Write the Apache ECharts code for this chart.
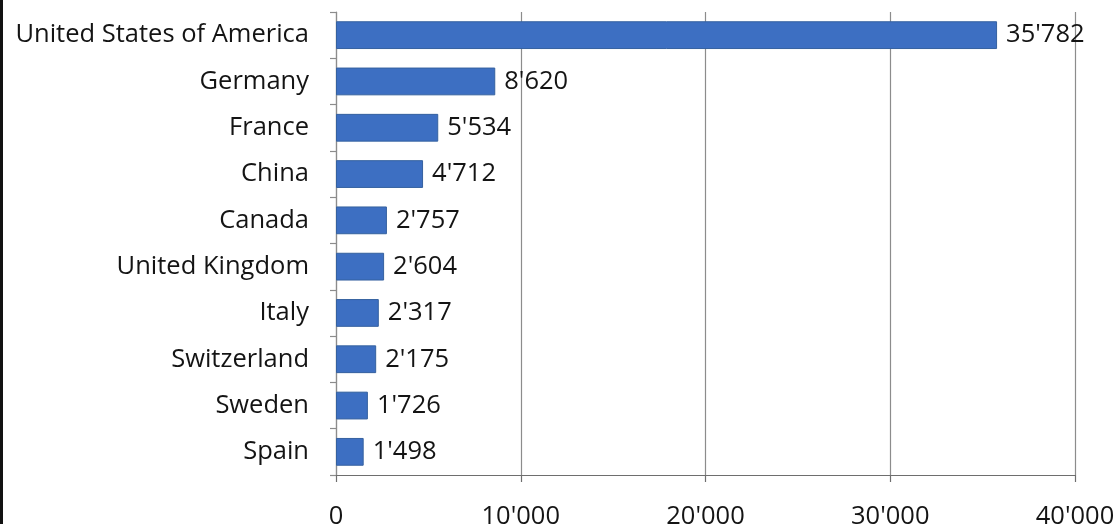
<!DOCTYPE html>
<html>
<head>
<meta charset="utf-8">
<script src="https://cdn.jsdelivr.net/npm/echarts@6/dist/echarts.min.js"></script>
<style>
  html, body { margin: 0; padding: 0; background: #fff; }
  #wrap { width: 1118px; height: 524px; box-sizing: border-box; border-left: 3px solid #111; background: #fff; }
  #chart { width: 1115px; height: 524px; }
</style>
</head>
<body>
<div id="wrap"><div id="chart"></div></div>
<script>
// Countries, top to bottom
const countries = [
  'United States of America', 'Germany', 'France', 'China', 'Canada',
  'United Kingdom', 'Italy', 'Switzerland', 'Sweden', 'Spain'
];
// Values per country
const values = [35782, 8620, 5534, 4712, 2757, 2604, 2317, 2175, 1726, 1498];
// Value axis range
const axisMin = 0;
const axisMax = 40000;
const axisStep = 10000;

// Thousands separated with an apostrophe, e.g. 35'782
function fmt(v) {
  return String(Math.round(v)).replace(/\B(?=(\d{3})+(?!\d))/g, "'");
}

const font = '"Open Sans", "DejaVu Sans", sans-serif';
const chart = echarts.init(document.getElementById('chart'), null, { renderer: 'canvas' });

chart.setOption({
  animation: false,
  backgroundColor: '#fff',
  grid: { left: 333, right: 43, top: 12, bottom: 49, containLabel: false, outerBoundsMode: 'none' },
  xAxis: {
    type: 'value',
    min: axisMin,
    max: axisMax,
    interval: axisStep,
    axisLine: { show: true, lineStyle: { color: '#6e6e6e', width: 1.2 } },
    axisTick: { show: true, length: 7, lineStyle: { color: '#6e6e6e', width: 1.2 } },
    splitLine: { show: true, lineStyle: { color: '#8c8c8c', width: 1.2 } },
    axisLabel: {
      margin: 29,
      color: '#141414',
      fontFamily: font,
      fontSize: 25.5,
      formatter: fmt
    }
  },
  yAxis: {
    type: 'category',
    data: countries,
    inverse: true,
    axisLine: { show: true, lineStyle: { color: '#8c8c8c', width: 1.2 } },
    axisTick: { show: true, length: 6, lineStyle: { color: '#8c8c8c', width: 1.2 } },
    axisLabel: {
      margin: 27,
      color: '#141414',
      fontFamily: font,
      fontSize: 25.5
    }
  },
  series: [{
    type: 'bar',
    data: values,
    barCategoryGap: '40%',
    itemStyle: { color: '#3d6fc2', borderColor: '#35619f', borderWidth: 1 },
    label: {
      show: true,
      position: 'right',
      distance: 9,
      color: '#141414',
      fontFamily: font,
      fontSize: 25.5,
      formatter: p => fmt(p.value)
    }
  }]
});
</script>
</body>
</html>
